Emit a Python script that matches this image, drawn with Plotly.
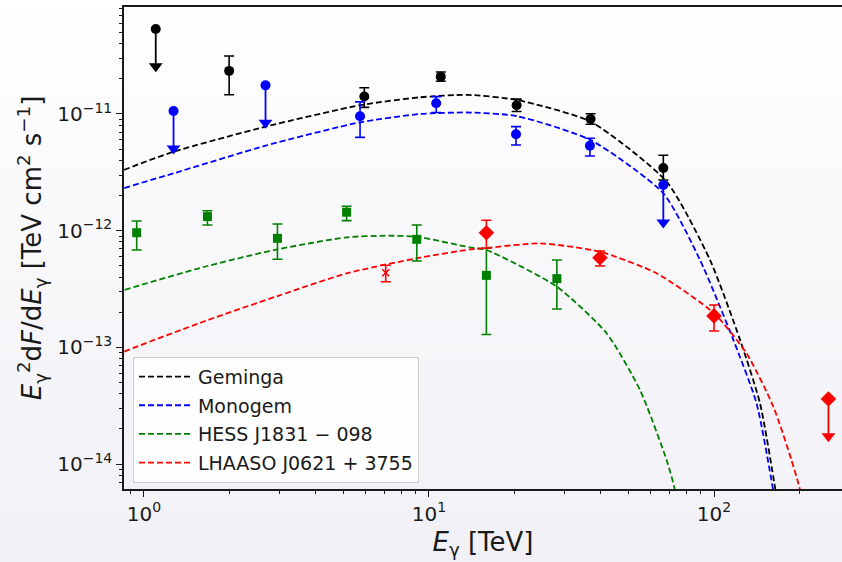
import plotly.graph_objects as go

# ---------------- measured flux points (E in TeV, E^2 dF/dE in TeV cm^-2 s^-1) ----------------
gem_E = [1.99, 5.93, 11.0, 20.3, 36.9, 66.4]
gem_F = [2.34e-11, 1.41e-11, 2.09e-11, 1.19e-11, 9.06e-12, 3.44e-12]
gem_hi = [3.14e-11, 1.68e-11, 2.29e-11, 1.34e-11, 1.006e-11, 4.43e-12]
gem_lo = [1.46e-11, 1.14e-11, 1.91e-11, 1.05e-11, 8.16e-12, 2.72e-12]
gem_ul_E = [1.10]
gem_ul_F = [5.36e-11]

mon_E = [5.73, 10.6, 20.2, 36.7]
mon_F = [9.56e-12, 1.235e-11, 6.70e-12, 5.35e-12]
mon_hi = [1.27e-11, 1.41e-11, 7.79e-12, 6.19e-12]
mon_lo = [6.31e-12, 1.03e-11, 5.42e-12, 4.36e-12]
mon_ul_E = [1.27, 2.67, 66.4]
mon_ul_F = [1.06e-11, 1.76e-11, 2.46e-12]

hess_E = [0.943, 1.67, 2.94, 5.14, 9.06, 15.9, 28.1]
hess_F = [9.61e-13, 1.32e-12, 8.60e-13, 1.44e-12, 8.43e-13, 4.14e-13, 3.88e-13]
hess_hi = [1.21e-12, 1.48e-12, 1.14e-12, 1.62e-12, 1.12e-12, 7.06e-13, 5.61e-13]
hess_lo = [6.83e-13, 1.12e-12, 5.69e-13, 1.22e-12, 5.50e-13, 1.29e-13, 2.13e-13]

lha_E = [15.9, 39.8, 100.0]
lha_F = [9.61e-13, 5.86e-13, 1.86e-13]
lha_hi = [1.23e-12, 6.70e-13, 2.31e-13]
lha_lo = [7.06e-13, 4.98e-13, 1.38e-13]
lha_x_E = [7.05]
lha_x_F = [4.36e-13]
lha_x_hi = [5.05e-13]
lha_x_lo = [3.65e-13]
lha_ul_E = [252.0]
lha_ul_F = [3.61e-14]

# ---------------- model spectra ----------------
gem_mod_E = [0.80, 0.851, 1.27, 2.67, 5.73, 9.3, 13.6, 20.3, 36.9, 68.2, 96.8, 123.4, 145.0, 164.0, 172.0]
gem_mod_F = [3.05e-12, 3.31e-12, 4.75e-12, 7.78e-12, 1.19e-11, 1.39e-11, 1.46e-11, 1.32e-11, 8.59e-12,
             2.63e-12, 5.61e-13, 1.16e-13, 3.31e-14, 6.1e-15, 2.5e-15]

mon_mod_E = [0.80, 0.851, 1.27, 2.67, 5.73, 9.3, 13.6, 20.3, 36.9, 66.4, 89.3, 116.9, 141.0, 161.0, 170.0]
mon_mod_F = [2.15e-12, 2.31e-12, 3.10e-12, 5.35e-12, 8.49e-12, 1.0e-11, 1.03e-11, 9.61e-12, 5.98e-12,
             2.09e-12, 5.61e-13, 1.16e-13, 3.31e-14, 6.1e-15, 2.5e-15]

hess_mod_E = [0.80, 0.851, 1.67, 2.94, 5.14, 7.1, 9.06, 13.9, 15.9, 28.1, 42.0, 55.0, 68.2, 72.8, 76.0]
hess_mod_F = [2.95e-13, 3.10e-13, 4.98e-13, 6.92e-13, 8.77e-13, 9.06e-13, 8.87e-13, 7.2e-13, 6.83e-13,
              3.31e-13, 1.32e-13, 4.31e-14, 1.08e-14, 6.1e-15, 3.0e-15]

lha_mod_E = [0.80, 0.851, 1.67, 2.94, 5.14, 9.06, 13.9, 15.9, 24.5, 39.8, 62.9, 100.0, 130.0, 161.5, 187.0, 200.0, 210.0]
lha_mod_F = [8.5e-14, 9.18e-14, 1.71e-13, 2.75e-13, 4.31e-13, 5.80e-13, 6.9e-13, 7.1e-13, 7.79e-13, 6.6e-13,
             4.31e-13, 1.96e-13, 8.89e-14, 3.1e-14, 1.08e-14, 6.1e-15, 3.0e-15]

# ---------------- axis ticks ----------------
x_tickvals = [1, 10, 100]
x_ticktext = ["10<sup>0</sup>", "10<sup>1</sup>", "10<sup>2</sup>"]
y_tickvals = [1e-14, 1e-13, 1e-12, 1e-11]
y_ticktext = ["10<sup>\u221214</sup>", "10<sup>\u221213</sup>", "10<sup>\u221212</sup>", "10<sup>\u221211</sup>"]

FONT = "DejaVu Sans"
TXT = "#1a1a1a"
UL_DROP = 10 ** -0.32  # arrow length of upper limits, in decades

fig = go.Figure()


def add_model(E, F, color, name):
    fig.add_trace(go.Scatter(
        x=E, y=F, mode="lines", name=name,
        line=dict(color=color, width=1.8, dash="6px,3px", shape="spline", smoothing=0.6),
        hoverinfo="skip",
    ))


def add_points(E, F, hi, lo, color, symbol, size):
    fig.add_trace(go.Scatter(
        x=E, y=F, mode="markers", showlegend=False,
        marker=dict(color=color, symbol=symbol, size=size, line=dict(width=0)),
        error_y=dict(type="data", symmetric=False,
                     array=[h - f for h, f in zip(hi, F)],
                     arrayminus=[f - l for f, l in zip(F, lo)],
                     color=color, thickness=1.6, width=5),
    ))


def add_limits(E, F, color, symbol, size):
    xs, ys = [], []
    for e, f in zip(E, F):
        xs += [e, e, None]
        ys += [f, f * UL_DROP, None]
    fig.add_trace(go.Scatter(x=xs, y=ys, mode="lines", showlegend=False,
                             line=dict(color=color, width=1.8), hoverinfo="skip"))
    fig.add_trace(go.Scatter(x=E, y=[f * UL_DROP for f in F], mode="markers", showlegend=False,
                             marker=dict(color=color, symbol="triangle-down", size=12, line=dict(width=0))))
    fig.add_trace(go.Scatter(x=E, y=F, mode="markers", showlegend=False,
                             marker=dict(color=color, symbol=symbol, size=size, line=dict(width=0))))


add_model(gem_mod_E, gem_mod_F, "#000000", "Geminga")
add_model(mon_mod_E, mon_mod_F, "#0000ff", "Monogem")
add_model(hess_mod_E, hess_mod_F, "#008000", "HESS J1831 \u2212 098")
add_model(lha_mod_E, lha_mod_F, "#ff0000", "LHAASO J0621 + 3755")

add_points(gem_E, gem_F, gem_hi, gem_lo, "#000000", "circle", 10)
add_limits(gem_ul_E, gem_ul_F, "#000000", "circle", 10)
add_points(mon_E, mon_F, mon_hi, mon_lo, "#0000ff", "circle", 10)
add_limits(mon_ul_E, mon_ul_F, "#0000ff", "circle", 10)
add_points(hess_E, hess_F, hess_hi, hess_lo, "#008000", "square", 9)
add_points(lha_E, lha_F, lha_hi, lha_lo, "#ff0000", "diamond", 12)
add_points(lha_x_E, lha_x_F, lha_x_hi, lha_x_lo, "#ff0000", "x-thin-open", 7)
fig.data[-1].marker.line = dict(color="#ff0000", width=1.5)
add_limits(lha_ul_E, lha_ul_F, "#ff0000", "diamond", 12)

# soft vertical background shading
shapes = []
n_bands = 30
y_bot, y_top = -0.17, 1.03
for i in range(n_bands):
    t = i / (n_bands - 1)
    r = round(240 + 15 * t)
    b = round(246 + 9 * t)
    shapes.append(dict(type="rect", xref="paper", yref="paper", layer="below",
                       x0=-0.25, x1=1.05,
                       y0=y_bot + (y_top - y_bot) * i / n_bands,
                       y1=y_bot + (y_top - y_bot) * (i + 1) / n_bands + 0.002,
                       fillcolor=f"rgb({r},{r},{b})", line=dict(width=0)))

x_minor = [v * 10 ** k for k in (-1, 0, 1, 2) for v in range(2, 10)]
y_minor = [v * 10 ** k for k in (-15, -14, -13, -12, -11) for v in range(2, 10)]

axis_common = dict(
    type="log", showgrid=False, zeroline=False,
    showline=True, linecolor="#1a1a1a", linewidth=1.5,
    ticks="outside", ticklen=6, tickwidth=1.2, tickcolor="#1a1a1a",
    tickfont=dict(family=FONT, size=20, color=TXT),
    tickmode="array",
)

fig.update_layout(
    width=842, height=562,
    margin=dict(l=124, r=0, t=7, b=73),
    paper_bgcolor="#ffffff",
    plot_bgcolor="rgba(0,0,0,0)",
    shapes=shapes,
    font=dict(family=FONT, color=TXT),
    xaxis=dict(axis_common, range=[-0.070, 2.449], mirror=True,
               tickvals=x_tickvals, ticktext=x_ticktext,
               minor=dict(tickmode="array", tickvals=x_minor, ticks="outside",
                          ticklen=3.5, tickwidth=1, tickcolor="#1a1a1a"),
               title=dict(text="<i>E</i><sub>\u03b3</sub> [TeV]",
                          font=dict(family=FONT, size=26, color=TXT), standoff=8)),
    yaxis=dict(axis_common, range=[-14.214, -10.083], mirror=False,
               tickvals=y_tickvals, ticktext=y_ticktext,
               minor=dict(tickmode="array", tickvals=y_minor, ticks="outside",
                          ticklen=3.5, tickwidth=1, tickcolor="#1a1a1a"),
               title=dict(text="<i>E</i><sub>\u03b3</sub><sup>2</sup>d<i>F</i>/d<i>E</i><sub>\u03b3</sub>"
                               " [TeV cm<sup>2</sup> s<sup>\u22121</sup>]",
                          font=dict(family=FONT, size=26, color=TXT), standoff=8)),
    legend=dict(x=0.0125, y=0.2745, xanchor="left", yanchor="top",
                bgcolor="rgba(255,255,255,0.85)", bordercolor="#cccccc", borderwidth=1,
                font=dict(family=FONT, size=19, color=TXT),
                tracegroupgap=1, itemwidth=54),
    showlegend=True,
)
for i, tr in enumerate(fig.data[:4]):
    tr.legendgroup = f"g{i}"

fig.write_html("out.html")
